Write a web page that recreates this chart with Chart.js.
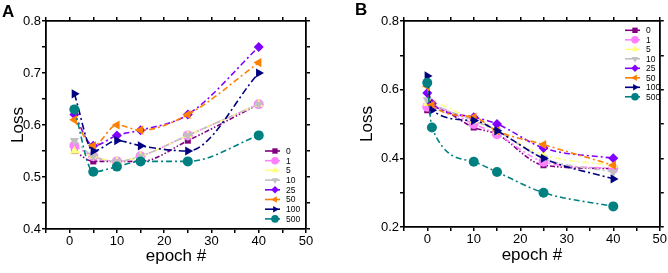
<!DOCTYPE html>
<html>
<head>
<meta charset="utf-8">
<script src="https://cdn.jsdelivr.net/npm/chart.js@4.4.1/dist/chart.umd.min.js"></script>
<style>
  body { margin: 0; background: #fff; width: 668px; height: 273px; position: relative; overflow: hidden; font-family: "Liberation Sans", Arial, sans-serif; }
  canvas { position: absolute; top: 0; }
  .tag { position: absolute; font-weight: bold; font-size: 17px; line-height: 1; color: #000; }
</style>
</head>
<body>
<canvas id="chartA" width="334" height="273" style="left:0"></canvas>
<canvas id="chartB" width="334" height="273" style="left:334px"></canvas>
<div class="tag" style="left:2px;top:3px">A</div>
<div class="tag" style="left:355px;top:1px">B</div>
<script>
// series (number of ... per legend)
const seriesNames = ['0', '1', '5', '10', '25', '50', '100', '500'];

// panel A
const epochsA = [1, 5, 10, 15, 25, 40];
const lossA0   = [0.55, 0.53, 0.53, 0.53, 0.57, 0.64];
const lossA1   = [0.56, 0.54, 0.53, 0.54, 0.58, 0.64];
const lossA5   = [0.55, 0.54, 0.53, 0.54, 0.58, 0.64];
const lossA10  = [0.57, 0.54, 0.53, 0.54, 0.58, 0.64];
const lossA25  = [0.62, 0.56, 0.58, 0.59, 0.62, 0.75];
const lossA50  = [0.61, 0.56, 0.60, 0.59, 0.62, 0.72];
const lossA100 = [0.66, 0.55, 0.57, 0.56, 0.55, 0.70];
const lossA500 = [0.63, 0.51, 0.52, 0.53, 0.53, 0.58];

// panel B
const epochsB = [0, 1, 10, 15, 25, 40];
const lossB0   = [0.54, 0.55, 0.49, 0.47, 0.38, 0.37];
const lossB1   = [0.55, 0.55, 0.50, 0.47, 0.39, 0.37];
const lossB5   = [0.56, 0.56, 0.51, 0.48, 0.41, 0.38];
const lossB10  = [0.57, 0.56, 0.51, 0.48, 0.40, 0.36];
const lossB25  = [0.59, 0.56, 0.52, 0.50, 0.43, 0.40];
const lossB50  = [0.61, 0.555, 0.52, 0.48, 0.44, 0.38];
const lossB100 = [0.64, 0.54, 0.51, 0.48, 0.40, 0.34];
const lossB500 = [0.62, 0.49, 0.39, 0.36, 0.30, 0.26];

// styling per series
const colors = ['#800080', '#ff80ff', '#ffff80', '#c0c0c0', '#8000ff', '#ff8000', '#000080', '#008080'];
const shapes = ['rect', 'circle', 'triangle', 'triangle', 'rectRot', 'triangle', 'triangle', 'circle'];
const turns  = [0, 0, 0, 180, 0, 270, 90, 0];
const dashes = [[5, 2, 1.5, 2, 1.5, 2], [6, 3, 2, 3], [6, 3, 2, 3], [6, 3, 2, 3], [6, 3, 2, 3], [6, 3, 2, 3], [7, 3, 2, 3], [6, 3, 2, 3]];

const FONT = '"Liberation Sans", Arial, sans-serif';
Chart.defaults.font.family = FONT;
Chart.defaults.color = '#000';

function buildSets(epochs, lists) {
  return lists.map((vals, i) => ({
    label: seriesNames[i],
    data: epochs.map((e, j) => ({ x: e, y: vals[j] })),
    borderColor: colors[i],
    backgroundColor: colors[i],
    borderWidth: 1.6,
    borderDash: dashes[i],
    pointStyle: shapes[i],
    rotation: turns[i],
    pointRadius: shapes[i] === 'rect' ? 4.3 : (shapes[i] === 'triangle' ? 5.3 : 5),
    pointBorderWidth: 0,
    cubicInterpolationMode: 'monotone',
    order: -i
  }));
}

// legend drawn inside the plot, line + marker + label
const innerLegend = {
  id: 'innerLegend',
  afterDatasetsDraw(chart, args, opts) {
    const ctx = chart.ctx;
    ctx.save();
    chart.data.datasets.forEach((ds, i) => {
      const y = opts.y + i * opts.step;
      ctx.strokeStyle = ds.borderColor;
      ctx.fillStyle = ds.borderColor;
      ctx.lineWidth = 1.6;
      ctx.setLineDash([]);
      ctx.beginPath();
      ctx.moveTo(opts.x, y);
      ctx.lineTo(opts.x + 15, y);
      ctx.stroke();
      Chart.helpers.drawPoint(ctx, { pointStyle: ds.pointStyle, rotation: ds.rotation, radius: 3.8, borderWidth: 0 }, opts.x + 10, y);
      ctx.fillStyle = '#000';
      ctx.font = '8.5px ' + FONT;
      ctx.textBaseline = 'middle';
      ctx.fillText(ds.label, opts.x + 21, y + 0.5);
    });
    ctx.restore();
  }
};

function axisX(pos, h, showLabels, title, pad) {
  return {
    type: 'linear', position: pos, min: -5, max: 50,
    ticks: {
      display: showLabels, stepSize: 5, padding: 1, font: { size: 13 }, color: '#000',
      callback: v => (v % 10 === 0 ? String(v) : '')
    },
    grid: { drawOnChartArea: false, tickLength: 4, color: '#000', lineWidth: 1.5 },
    border: { display: true, color: '#000', width: 1.8 },
    title: { display: !!title, text: title, font: { size: 17 }, padding: { top: 0, bottom: pad } },
    afterFit: s => { s.height = h; }
  };
}

function axisY(pos, w, min, max, step, labelFn, showLabels, pad) {
  return {
    type: 'linear', position: pos, min, max,
    ticks: { display: showLabels, stepSize: step, padding: 1, font: { size: 13 }, color: '#000', callback: labelFn },
    grid: { drawOnChartArea: false, tickLength: 4, color: '#000', lineWidth: 1.5 },
    border: { display: true, color: '#000', width: 1.8 },
    title: { display: showLabels, text: 'Loss', font: { size: 17 }, padding: { top: pad, bottom: 0 } },
    afterFit: s => { s.width = w; }
  };
}

const labelA = v => (Math.abs(v * 10 - Math.round(v * 10)) < 1e-6 ? v.toFixed(1) : '');
const labelB = v => (Math.round(v * 10) % 2 === 0 ? v.toFixed(1) : '');

function makeChart(id, sets, yMin, yMax, yStep, labelFn, yW, xH, rightPad, yTitlePad, xTitlePad, legendPos) {
  return new Chart(document.getElementById(id), {
    type: 'line',
    data: { datasets: sets },
    options: {
      responsive: false,
      animation: false,
      layout: { padding: { left: 0, right: rightPad, top: 17, bottom: 0 } },
      plugins: { legend: { display: false }, tooltip: { enabled: false }, innerLegend: legendPos },
      scales: {
        x: axisX('bottom', xH, true, 'epoch #', xTitlePad),
        x2: axisX('top', 4, false, '', 0),
        y: axisY('left', yW, yMin, yMax, yStep, labelFn, true, yTitlePad),
        y2: axisY('right', 4, yMin, yMax, yStep, labelFn, false, 0)
      }
    },
    plugins: [innerLegend]
  });
}

makeChart('chartA',
  buildSets(epochsA, [lossA0, lossA1, lossA5, lossA10, lossA25, lossA50, lossA100, lossA500]),
  0.4, 0.8, 0.05, labelA, 46, 44, 24, 8, 6, { x: 265, y: 151, step: 9.7 });

makeChart('chartB',
  buildSets(epochsB, [lossB0, lossB1, lossB5, lossB10, lossB25, lossB50, lossB100, lossB500]),
  0.2, 0.8, 0.1, labelB, 70, 46, 4, 23, 7, { x: 291, y: 30.3, step: 9.5 });
</script>
</body>
</html>
